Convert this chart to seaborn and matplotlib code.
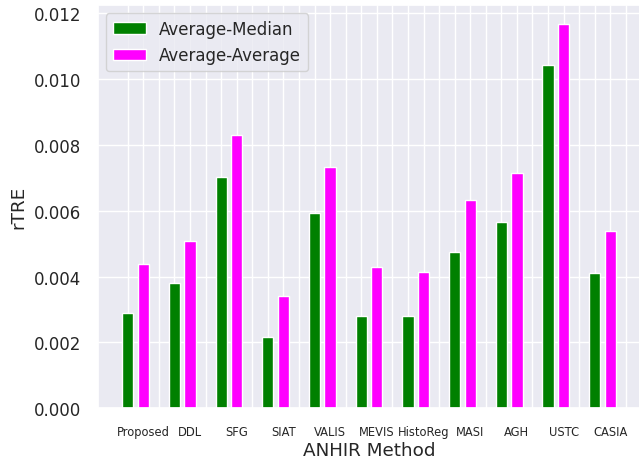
import matplotlib
matplotlib.use("Agg")
import matplotlib.pyplot as plt
import numpy as np
import pandas as pd
import seaborn as sns

methods = ["Proposed", "DDL", "SFG", "SIAT", "VALIS", "MEVIS", "HistoReg",
           "MASI", "AGH", "USTC", "CASIA"]
avg_median = [0.00290, 0.00382, 0.00703, 0.00217, 0.00593, 0.00280, 0.00280,
              0.00474, 0.00567, 0.01043, 0.00410]
avg_average = [0.00438, 0.00507, 0.00830, 0.00340, 0.00733, 0.00430, 0.00413,
               0.00633, 0.00716, 0.01167, 0.00539]
series_names = ["Average-Median", "Average-Average"]
series_colors = ["#008000", "#ff00ff"]

# each method gets three slots on the x axis: median bar, average bar, gap
slot = np.arange(len(methods)) * 3
df = pd.DataFrame({
    "pos": np.concatenate([slot, slot + 1]),
    "rTRE": avg_median + avg_average,
    "series": [series_names[0]] * len(methods) + [series_names[1]] * len(methods),
})

sns.set_theme(style="darkgrid")
plt.rcParams["font.family"] = ["DejaVu Sans"]

fig = plt.figure(figsize=(6.39, 4.60), dpi=100)
ax = fig.add_axes([0.1527, 0.1102, 0.8496, 0.8768])

sns.barplot(data=df, x="pos", y="rTRE", hue="series", hue_order=series_names,
            palette=series_colors, native_scale=True, dodge=False, width=0.72,
            saturation=1, errorbar=None, ax=ax)

n_slots = len(methods) * 3
tick_text = [""] * n_slots
for i, m in enumerate(methods):
    tick_text[3 * i + 1] = m
ax.set_xticks(range(n_slots))
ax.set_xticklabels(tick_text)
ax.set_xlim(-1.935, n_slots - 0.065)
ax.set_ylim(0, max(avg_average) * 1.05)

ax.tick_params(axis="y", length=0, pad=12, labelsize=12)
ax.tick_params(axis="x", length=0, pad=12, labelsize=8.3)
ax.set_xlabel("ANHIR Method", fontsize=13.2, labelpad=2)
ax.set_ylabel("rTRE", fontsize=13.2)

sns.move_legend(ax, "upper left", title=None, fontsize=12)

fig.savefig("out.png", dpi=100)
